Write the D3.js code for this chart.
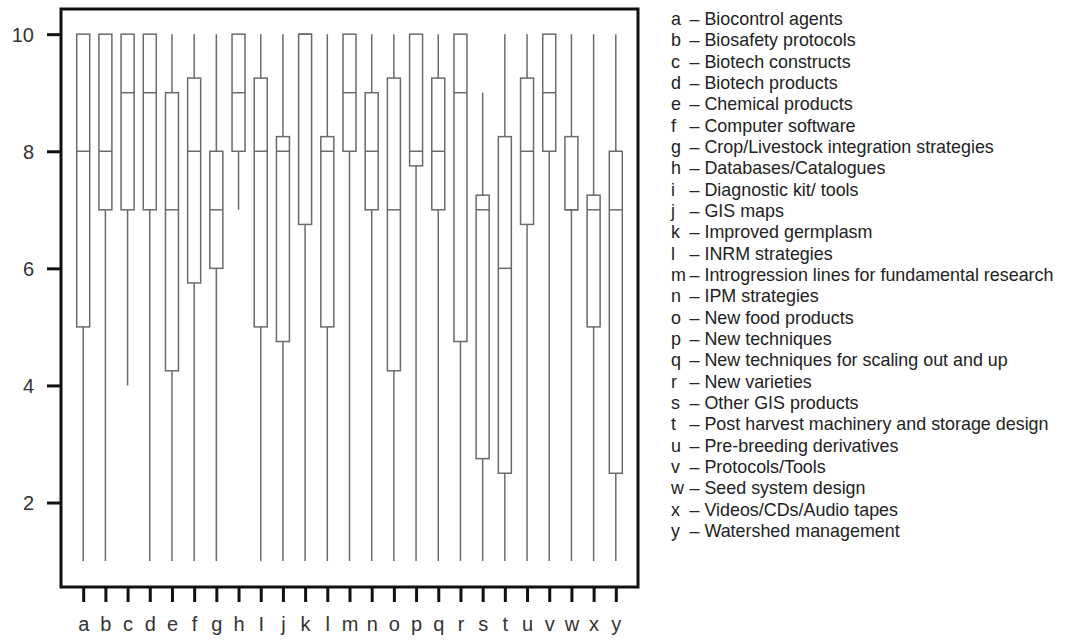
<!DOCTYPE html>
<html>
<head>
<meta charset="utf-8">
<script src="https://cdn.jsdelivr.net/npm/d3@7"></script>
<style>
  html, body { margin: 0; padding: 0; background: #fff; }
  svg { display: block; }
  text { font-family: "Liberation Sans", Arial, Helvetica, sans-serif; }
</style>
</head>
<body>
<svg id="chart" width="1070" height="640"></svg>
<script>
// ---- data ----
const categories = ["a","b","c","d","e","f","g","h","i","j","k","l","m","n","o","p","q","r","s","t","u","v","w","x","y"];
const axisLabels = ["a","b","c","d","e","f","g","h","I","j","k","l","m","n","o","p","q","r","s","t","u","v","w","x","y"];
const mins    = [1, 1, 4, 1, 1,    1,    1, 7, 1,    1,    1,    1,    1, 1, 1,    1,    1,    1,    1,    1,    1,    1, 1,    1,    1];
const q1s     = [5, 7, 7, 7, 4.25, 5.75, 6, 8, 5,    4.75, 6.75, 5,    8, 7, 4.25, 7.75, 7,    4.75, 2.75, 2.5,  6.75, 8, 7,    5,    2.5];
const medians = [8, 8, 9, 9, 7,    8,    7, 9, 8,    8,    10,   8,    9, 8, 7,    8,    8,    9,    7,    6,    8,    9, 7,    7,    7];
const q3s     = [10,10,10,10,9,    9.25, 8, 10,9.25, 8.25, 10,   8.25, 10,9, 9.25, 10,   9.25, 10,   7.25, 8.25, 9.25, 10,8.25, 7.25, 8];
const maxs    = [10,10,10,10,10,   10,   10,10,10,   10,   10,   10,   10,10,10,   10,   10,   10,   9,    10,   10,   10,10,   10,   10];
const yTicks  = [2, 4, 6, 8, 10];
const legendNames = [
  "Biocontrol agents","Biosafety protocols","Biotech constructs","Biotech products",
  "Chemical products","Computer software","Crop/Livestock integration strategies",
  "Databases/Catalogues","Diagnostic kit/ tools","GIS maps","Improved germplasm",
  "INRM strategies","Introgression lines for fundamental research","IPM strategies",
  "New food products","New techniques","New techniques for scaling out and up",
  "New varieties","Other GIS products","Post harvest machinery and storage design",
  "Pre-breeding derivatives","Protocols/Tools","Seed system design",
  "Videos/CDs/Audio tapes","Watershed management"
];

// ---- layout ----
const frame = { left: 61, top: 9, right: 638, bottom: 587 };
const svg = d3.select("#chart");

const x = d3.scalePoint().domain(categories).range([frame.left, frame.right]).padding(1);
const y = d3.scaleLinear().domain([0.557, 10.43]).range([frame.bottom, frame.top]);

const boxes = categories.map((c, i) => ({
  c, min: mins[i], q1: q1s[i], med: medians[i], q3: q3s[i], max: maxs[i]
}));

const boxW = 13;
const grey = "#6a6a6a";

const g = svg.append("g");

// whiskers
g.selectAll("line.wlo").data(boxes).join("line")
  .attr("x1", d => x(d.c)).attr("x2", d => x(d.c))
  .attr("y1", d => y(d.min)).attr("y2", d => y(d.q1))
  .attr("stroke", grey).attr("stroke-width", 1.5);
g.selectAll("line.whi").data(boxes).join("line")
  .attr("x1", d => x(d.c)).attr("x2", d => x(d.c))
  .attr("y1", d => y(d.q3)).attr("y2", d => y(d.max))
  .attr("stroke", grey).attr("stroke-width", 1.5);

// boxes
g.selectAll("rect.box").data(boxes).join("rect")
  .attr("x", d => x(d.c) - boxW / 2)
  .attr("width", boxW)
  .attr("y", d => y(d.q3))
  .attr("height", d => Math.max(0.01, y(d.q1) - y(d.q3)))
  .attr("fill", "none").attr("stroke", grey).attr("stroke-width", 1.5);

// medians
g.selectAll("line.med").data(boxes).join("line")
  .attr("x1", d => x(d.c) - boxW / 2).attr("x2", d => x(d.c) + boxW / 2)
  .attr("y1", d => y(d.med)).attr("y2", d => y(d.med))
  .attr("stroke", grey).attr("stroke-width", 1.5);

// frame
svg.append("rect")
  .attr("x", frame.left).attr("y", frame.top)
  .attr("width", frame.right - frame.left).attr("height", frame.bottom - frame.top)
  .attr("fill", "none").attr("stroke", "#111").attr("stroke-width", 3);

// y axis
const yAxis = d3.axisLeft(y).tickValues(yTicks).tickSize(14).tickPadding(13).tickFormat(d3.format("d"));
const yg = svg.append("g").attr("transform", `translate(${frame.left},0)`).call(yAxis);
yg.select(".domain").remove();
yg.selectAll(".tick line").attr("stroke", "#111").attr("stroke-width", 3);
yg.selectAll(".tick text").attr("font-size", 20).attr("fill", "#333")
  .attr("font-family", "'Liberation Sans', Arial, sans-serif").attr("dy", "0.36em");

// x axis
const xAxis = d3.axisBottom(x).tickSize(15).tickPadding(15).tickFormat((d, i) => axisLabels[i]);
const xg = svg.append("g").attr("transform", `translate(0,${frame.bottom})`).call(xAxis);
xg.select(".domain").remove();
xg.selectAll(".tick line").attr("stroke", "#111").attr("stroke-width", 3);
xg.selectAll(".tick text").attr("font-size", 20).attr("fill", "#333")
  .attr("font-family", "'Liberation Sans', Arial, sans-serif");

// legend
const legend = svg.append("g");
const rowY = i => 25 + i * 21.33;
const legendSize = 17.9;
categories.forEach((c, i) => {
  const lt = legend.append("text")
    .attr("x", 671).attr("y", rowY(i))
    .attr("font-size", legendSize).attr("fill", "#222")
    .text(c);
  const w = lt.node().getComputedTextLength();
  const dx = Math.max(689.5, 671 + w + 1);
  legend.append("text")
    .attr("x", dx).attr("y", rowY(i))
    .attr("font-size", legendSize).attr("fill", "#222")
    .text("\u2013 " + legendNames[i]);
});
</script>
</body>
</html>
